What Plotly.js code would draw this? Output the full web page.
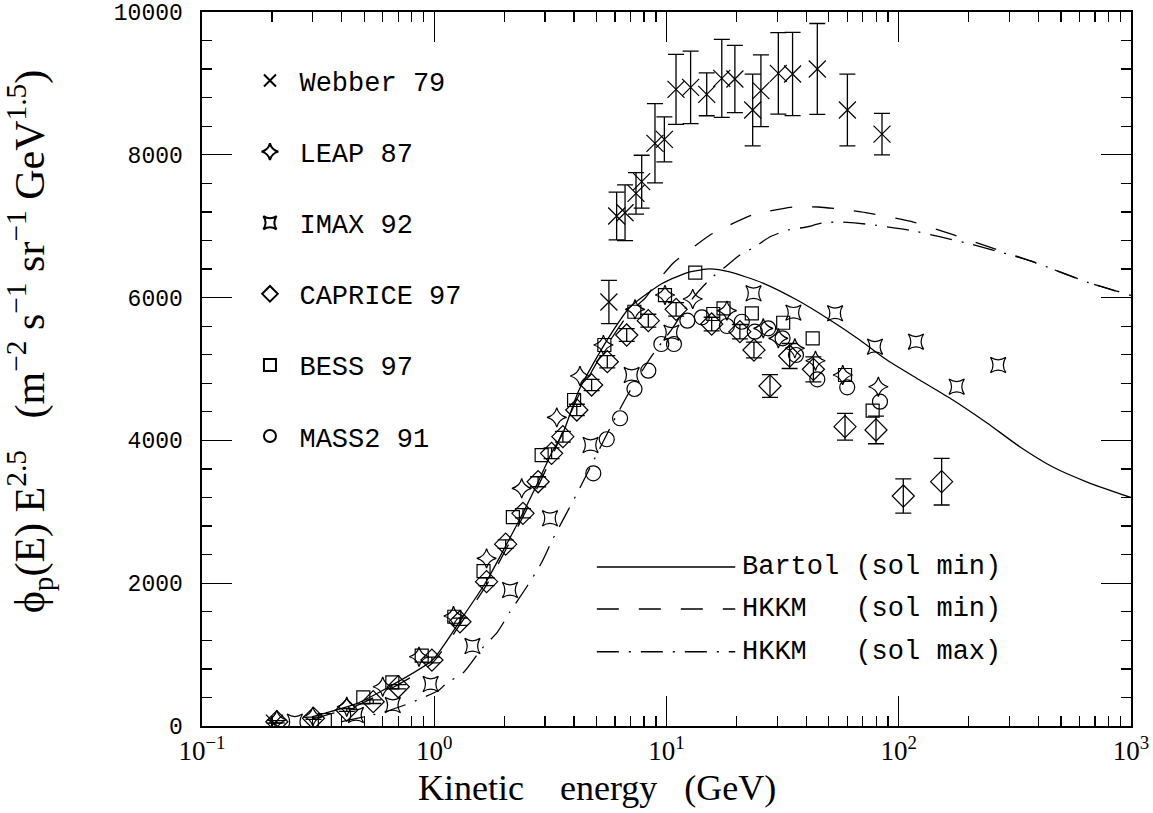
<!DOCTYPE html>
<html>
<head>
<meta charset="utf-8">
<script src="https://cdn.plot.ly/plotly-3.0.1.min.js"></script>
<style>
  html, body { margin: 0; padding: 0; background: #fff; }
  #chart { width: 1153px; height: 813px; }
</style>
</head>
<body>
<div id="chart"></div>
<script>
// Primary cosmic-ray proton flux, weighted by E^2.5, versus kinetic energy (GeV)

// Webber 79
const webberE   = [0.205, 5.65, 6.10, 6.63, 7.39, 7.82, 8.92, 9.79, 10.99, 12.7, 14.9, 17.3, 19.7, 23.5, 25.5, 30.3, 34.9, 44.6, 60.1, 84.7];
const webberF   = [40, 5938, 7143, 7189, 7460, 7624, 8161, 8217, 8917, 8945, 8847, 9071, 9062, 8627, 8898, 9141, 9132, 9202, 8627, 8290];
const webberErr = [0, 303, 335, 390, 290, 370, 555, 315, 490, 508, 300, 546, 471, 502, 502, 571, 583, 637, 502, 290];

// LEAP 87
const leapE = [0.21, 0.30, 0.42, 0.60, 0.86, 1.21, 1.68, 2.38, 3.37, 4.24, 5.35, 7.32, 9.85, 12.97, 18.2, 26.1, 30.3, 35.7, 43.8, 57.4, 81.7];
const leapF = [84, 130, 270, 550, 970, 1540, 2348, 3329, 4323, 4902, 5336, 5836, 6036, 5980, 5817, 5570, 5430, 5290, 5116, 4916, 4752];

// IMAX 92
const imaxE = [0.251, 0.46, 0.663, 0.965, 1.46, 2.12, 3.15, 4.71, 7.08, 10.5, 23.7, 35.2, 53.2, 79.0, 118.6, 177.6, 268];
const imaxF = [60, 154, 294, 588, 1120, 1905, 2909, 3936, 4916, 5508, 6060, 5789, 5780, 5312, 5382, 4752, 5056];

// CAPRICE 97
const capriceE   = [0.21, 0.302, 0.42, 0.546, 0.70, 0.977, 1.29, 1.68, 2.03, 2.41, 2.80, 3.20, 3.58, 4.11, 4.76, 5.56, 6.74, 8.35, 11.0, 15.65, 20.7, 23.8, 27.9, 33.9, 42.9, 58.7, 79.8, 104.6, 153];
const capriceF   = [60, 108, 224, 340, 550, 924, 1460, 2021, 2547, 2979, 3421, 3819, 4052, 4426, 4776, 5102, 5476, 5677, 5836, 5630, 5523, 5266, 4762, 5182, 4996, 4192, 4146, 3221, 3422];
const capriceErr = [15, 15, 20, 25, 30, 40, 50, 55, 60, 65, 70, 75, 75, 80, 80, 85, 90, 90, 95, 95, 100, 110, 160, 175, 175, 187, 193, 240, 327];

// BESS 97
const bessE = [0.338, 0.495, 0.66, 0.883, 1.22, 1.63, 2.18, 2.90, 4.00, 5.4, 7.27, 9.85, 13.3, 15.9, 17.6, 23.3, 31.8, 42.6, 58.7, 77.2];
const bessF = [84, 400, 610, 985, 1530, 2170, 2925, 3795, 4566, 5336, 5802, 6036, 6349, 5770, 5850, 5780, 5648, 5430, 4916, 4416];

// MASS2 91
const massE = [4.84, 5.53, 6.31, 7.28, 8.35, 9.5, 10.77, 12.3, 14.2, 18.2, 21.1, 24.0, 27.4, 31.6, 36.1, 44.6, 60.0, 83.0];
const massF = [3539, 4016, 4310, 4720, 4976, 5350, 5350, 5677, 5724, 5602, 5662, 5523, 5570, 5430, 5196, 4856, 4744, 4542];

// Model fluxes
const bartolE = [0.3, 0.34, 0.46, 0.64, 0.98, 1.29, 1.69, 2.04, 2.41, 2.8, 3.2, 3.58, 4.2, 5.54, 6.97, 9.66, 12.6, 15.4, 18.7, 26, 36.5, 50.6, 68, 89, 123, 171, 240, 333, 461, 647, 1000];
const bartolF = [130, 180, 310, 550, 920, 1470, 2045, 2535, 2983, 3417, 3824, 4100, 4706, 5400, 5868, 6204, 6359, 6401, 6359, 6204, 5966, 5686, 5406, 5126, 4846, 4566, 4244, 3908, 3627, 3417, 3200];

const hkkmMinE = [0.3, 0.46, 0.64, 0.98, 1.29, 1.69, 2.04, 2.41, 2.8, 3.2, 4.2, 5.54, 6.97, 8.1, 9.1, 10.7, 12.6, 15.4, 18.7, 23.4, 35.3, 45, 55.5, 72, 113, 170, 250, 375, 647, 1000];
const hkkmMinF = [100, 280, 510, 880, 1420, 1990, 2480, 2930, 3360, 3760, 4640, 5330, 5800, 5994, 6218, 6485, 6667, 6877, 7017, 7157, 7269, 7269, 7240, 7190, 7066, 6884, 6700, 6506, 6218, 6030];

const hkkmMaxE = [0.4, 0.6, 0.8, 1.05, 1.13, 1.33, 1.6, 1.87, 2.12, 2.5, 2.9, 3.24, 3.67, 4.17, 5.0, 5.8, 6.8, 8.5, 10.7, 12.3, 13.9, 15.6, 17.9, 20.7, 24, 27.8, 33.4, 40, 47, 55, 72, 113, 203, 300, 375, 647, 1000];
const hkkmMaxF = [60, 190, 330, 504, 602, 742, 1080, 1316, 1600, 1947, 2290, 2619, 2950, 3291, 3800, 4216, 4636, 5150, 5588, 5896, 6106, 6275, 6429, 6597, 6709, 6849, 6947, 6989, 7045, 7059, 7030, 6940, 6751, 6600, 6506, 6218, 6030];

// Axis ticks and titles
const xTickVals = [0.1, 1, 10, 100, 1000];
const xTickText = ['10<sup>\u22121</sup>', '10<sup>0</sup>', '10<sup>1</sup>', '10<sup>2</sup>', '10<sup>3</sup>'];
const yTickVals = [0, 2000, 4000, 6000, 8000, 10000];
const xTitle = 'Kinetic\u00a0\u00a0\u00a0\u00a0energy\u00a0\u00a0\u00a0(GeV)';
const yTitle = '\u03d5<sub>p</sub>(E)\u00a0E<sup>2.5</sup>\u00a0\u00a0\u00a0(m<sup>\u22122</sup>\u00a0s<sup>\u22121</sup>\u00a0sr<sup>\u22121</sup>\u00a0GeV<sup>1.5</sup>)';

// Names of the model curves, shown in the lower key
const modelNames = ['Bartol\u00a0(sol\u00a0min)', 'HKKM\u00a0\u00a0\u00a0(sol\u00a0min)', 'HKKM\u00a0\u00a0\u00a0(sol\u00a0max)'];
const modelDashes = ['solid', '22px,20px', '22px,10px,2px,10px'];

const ink = '#000';
const mono = 'Liberation Mono, Courier New, monospace';
const roman = 'Liberation Serif, Times New Roman, serif';

function dataTrace(name, x, y, symbol, size, err) {
  const t = {
    type: 'scatter', mode: 'markers', name: name, x: x, y: y,
    legendgroup: name,
    marker: { symbol: symbol, size: size, color: ink, line: { color: ink, width: 1.2 } },
    cliponaxis: true
  };
  if (err) {
    t.error_y = { type: 'data', array: err, visible: true, color: ink, thickness: 1.3, width: 8 };
  }
  return t;
}

function modelTrace(name, x, y, dash) {
  return {
    type: 'scatter', mode: 'lines', name: name, x: x, y: y,
    showlegend: false,
    line: { color: ink, width: 1.3, dash: dash, shape: 'spline', smoothing: 0.6 }
  };
}

const traces = [
  modelTrace(modelNames[0], bartolE, bartolF, modelDashes[0]),
  modelTrace(modelNames[1], hkkmMinE, hkkmMinF, modelDashes[1]),
  modelTrace(modelNames[2], hkkmMaxE, hkkmMaxF, modelDashes[2]),
  dataTrace('Webber 79', webberE, webberF, 'x-thin-open', 17, webberErr),
  dataTrace('LEAP 87', leapE, leapF, 'star-diamond-open', 14),
  dataTrace('IMAX 92', imaxE, imaxF, 'star-square-open', 14),
  dataTrace('CAPRICE 97', capriceE, capriceF, 'diamond-open', 17, capriceErr),
  dataTrace('BESS 97', bessE, bessF, 'square-open', 13),
  dataTrace('MASS2 91', massE, massF, 'circle-open', 15)
];

// Key for the model curves: short line samples with their labels
const keyY = [0.2227, 0.1639, 0.104];
const shapes = [];
const annotations = [];
for (let i = 0; i < modelNames.length; i++) {
  shapes.push({
    type: 'line', xref: 'paper', yref: 'paper',
    x0: 0.425, x1: 0.574, y0: keyY[i], y1: keyY[i],
    line: { color: ink, width: 1.3, dash: modelDashes[i] }
  });
  annotations.push({
    xref: 'paper', yref: 'paper', x: 0.579, y: keyY[i],
    xanchor: 'left', yanchor: 'middle', showarrow: false,
    text: modelNames[i],
    font: { family: mono, size: 27, color: ink }
  });
}

// Axis titles, placed as in the original figure
annotations.push({
  xref: 'paper', yref: 'paper', x: 0.425, y: -0.0868,
  xanchor: 'center', yanchor: 'middle', showarrow: false,
  text: xTitle, font: { family: roman, size: 36, color: ink }
});
annotations.push({
  xref: 'paper', yref: 'paper', x: -0.186, y: 0.539,
  xanchor: 'center', yanchor: 'middle', showarrow: false, textangle: -90,
  text: yTitle, font: { family: roman, size: 42, color: ink }
});

const layout = {
  width: 1153, height: 813,
  margin: { l: 202, r: 22, t: 12, b: 87 },
  paper_bgcolor: '#fff', plot_bgcolor: '#fff',
  showlegend: true,
  legend: {
    x: 0.0414, y: 0.9377, xanchor: 'left', yanchor: 'top',
    bgcolor: 'rgba(0,0,0,0)', borderwidth: 0,
    font: { family: mono, size: 27, color: ink },
    itemsizing: 'constant', itemwidth: 49,
    tracegroupgap: 33, traceorder: 'grouped'
  },
  xaxis: {
    type: 'log', range: [-1, 3],
    tickmode: 'array', tickvals: xTickVals, ticktext: xTickText,
    ticks: 'inside', ticklen: 30, tickwidth: 1.3, tickcolor: ink,
    minor: { ticks: 'inside', ticklen: 10, tickwidth: 1.3, tickcolor: ink, dtick: 'D1', showgrid: false },
    showline: true, linewidth: 1.6, linecolor: ink, mirror: 'allticks',
    showgrid: false, zeroline: false,
    tickfont: { family: roman, size: 27, color: ink },
    ticklabelstandoff: 0, ticklabeloverflow: 'allow'
  },
  yaxis: {
    range: [0, 10000],
    tickmode: 'array', tickvals: yTickVals, tickformat: 'd',
    ticks: 'inside', ticklen: 30, tickwidth: 1.3, tickcolor: ink,
    minor: { ticks: 'inside', ticklen: 10, tickwidth: 1.3, tickcolor: ink, dtick: 400, tick0: 0, showgrid: false },
    showline: true, linewidth: 1.6, linecolor: ink, mirror: 'allticks',
    showgrid: false, zeroline: false,
    tickfont: { family: mono, size: 23, color: ink },
    ticklabelstandoff: 13, ticklabeloverflow: 'allow'
  },
  shapes: shapes,
  annotations: annotations
};

Plotly.newPlot('chart', traces, layout, { displayModeBar: false, staticPlot: true });
</script>
</body>
</html>
